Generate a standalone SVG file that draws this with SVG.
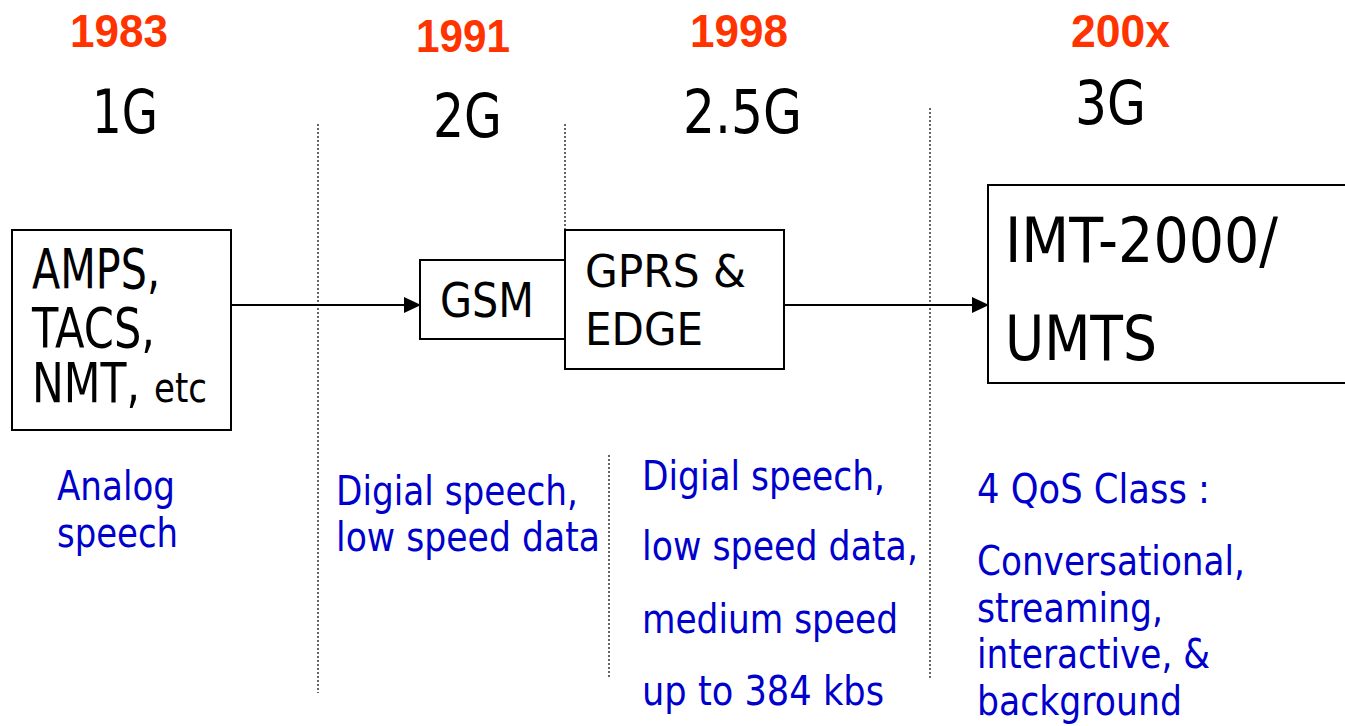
<svg xmlns="http://www.w3.org/2000/svg" width="1345" height="726" viewBox="0 0 1345 726">
<style>
.yr{font-family:"Liberation Sans",Arial,sans-serif;font-weight:bold;font-size:47px;fill:#FF3300}
.gen{font-family:"DejaVu Sans",Verdana,sans-serif;font-size:60px;fill:#000}
.bx{font-family:"DejaVu Sans",Verdana,sans-serif;fill:#000}
.desc{font-family:"DejaVu Sans",Verdana,sans-serif;font-size:40px;fill:#0000CC}
.box{fill:#fff;stroke:#000;stroke-width:2}
.dot{stroke:#333;stroke-width:1.5;stroke-dasharray:2 2;fill:none}
.conn{stroke:#000;stroke-width:2;fill:none}
</style>
<defs>
<marker id="arr" markerWidth="17" markerHeight="16" refX="16" refY="8" orient="auto" markerUnits="userSpaceOnUse">
<path d="M0,0 L17,8 L0,16 Z" fill="#000"/>
</marker>
</defs>
<rect width="1345" height="726" fill="#fff"/>
<g id="dividers">
<line class="dot" x1="318" y1="124" x2="318" y2="693"/>
<line class="dot" x1="565" y1="124" x2="565" y2="230"/>
<line class="dot" x1="609" y1="455" x2="609" y2="679"/>
<line class="dot" x1="930" y1="108" x2="930" y2="680"/>
</g>
<g id="headers">
<text class="yr" x="70" y="47" textLength="98" lengthAdjust="spacingAndGlyphs">1983</text>
<text class="yr" x="416" y="52" textLength="94" lengthAdjust="spacingAndGlyphs">1991</text>
<text class="yr" x="690" y="47" textLength="98" lengthAdjust="spacingAndGlyphs">1998</text>
<text class="yr" x="1071" y="47" textLength="99" lengthAdjust="spacingAndGlyphs">200x</text>
<text class="gen" x="92" y="133" textLength="66" lengthAdjust="spacingAndGlyphs">1G</text>
<text class="gen" x="433" y="137" textLength="69" lengthAdjust="spacingAndGlyphs">2G</text>
<text class="gen" x="683" y="133" textLength="119" lengthAdjust="spacingAndGlyphs">2.5G</text>
<text class="gen" x="1075" y="124" textLength="71" lengthAdjust="spacingAndGlyphs">3G</text>
</g>
<g id="connectors">
<line class="conn" x1="231" y1="305" x2="420" y2="305" marker-end="url(#arr)"/>
<line class="conn" x1="784" y1="305" x2="988" y2="305" marker-end="url(#arr)"/>
</g>
<g id="node-1g">
<rect class="box" x="12" y="230" width="219" height="200"/>
<text class="bx" font-size="55" x="32" y="288" textLength="128" lengthAdjust="spacingAndGlyphs">AMPS,</text>
<text class="bx" font-size="55" x="32" y="347" textLength="123" lengthAdjust="spacingAndGlyphs">TACS,</text>
<text class="bx" font-size="55" x="32" y="402" textLength="108" lengthAdjust="spacingAndGlyphs">NMT,</text>
<text class="bx" font-size="40" x="154" y="402" textLength="53" lengthAdjust="spacingAndGlyphs">etc</text>
</g>
<g id="node-gsm">
<rect class="box" x="420" y="260" width="145" height="79"/>
<text class="bx" font-size="48" x="440" y="317" textLength="94" lengthAdjust="spacingAndGlyphs">GSM</text>
</g>
<g id="node-gprs">
<rect class="box" x="565" y="230" width="219" height="139"/>
<text class="bx" font-size="44" x="585" y="287" textLength="161" lengthAdjust="spacingAndGlyphs">GPRS &amp;</text>
<text class="bx" font-size="44" x="585" y="345" textLength="118" lengthAdjust="spacingAndGlyphs">EDGE</text>
</g>
<g id="node-imt">
<rect class="box" x="988" y="185" width="370" height="198"/>
<text class="bx" font-size="62" x="1005" y="262" textLength="273" lengthAdjust="spacingAndGlyphs">IMT-2000/</text>
<text class="bx" font-size="62" x="1005" y="360" textLength="152" lengthAdjust="spacingAndGlyphs">UMTS</text>
</g>
<g id="desc-1g">
<text class="desc" x="57" y="500" textLength="118" lengthAdjust="spacingAndGlyphs">Analog</text>
<text class="desc" x="57" y="547" textLength="121" lengthAdjust="spacingAndGlyphs">speech</text>
</g>
<g id="desc-2g">
<text class="desc" x="336" y="505" textLength="242" lengthAdjust="spacingAndGlyphs">Digial speech,</text>
<text class="desc" x="336" y="551" textLength="264" lengthAdjust="spacingAndGlyphs">low speed data</text>
</g>
<g id="desc-25g">
<text class="desc" x="642" y="490" textLength="243" lengthAdjust="spacingAndGlyphs">Digial speech,</text>
<text class="desc" x="642" y="560" textLength="276" lengthAdjust="spacingAndGlyphs">low speed data,</text>
<text class="desc" x="642" y="633" textLength="256" lengthAdjust="spacingAndGlyphs">medium speed</text>
<text class="desc" x="642" y="705" textLength="242" lengthAdjust="spacingAndGlyphs">up to 384 kbs</text>
</g>
<g id="desc-3g">
<text class="desc" font-size="36" x="977" y="503" textLength="233" lengthAdjust="spacingAndGlyphs">4 QoS Class :</text>
<text class="desc" x="977" y="575" textLength="268" lengthAdjust="spacingAndGlyphs">Conversational,</text>
<text class="desc" x="977" y="622" textLength="186" lengthAdjust="spacingAndGlyphs">streaming,</text>
<text class="desc" x="977" y="668" textLength="233" lengthAdjust="spacingAndGlyphs">interactive, &amp;</text>
<text class="desc" x="977" y="715" textLength="205" lengthAdjust="spacingAndGlyphs">background</text>
</g>
</svg>
